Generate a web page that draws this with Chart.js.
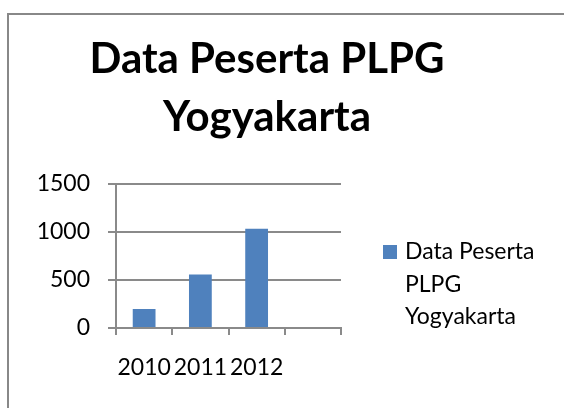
<!DOCTYPE html>
<html>
<head>
<meta charset="utf-8">
<script src="https://cdn.jsdelivr.net/npm/chart.js@4"></script>
<style>
  html, body { margin: 0; padding: 0; background: #fff; }
  #wrap { width: 564px; height: 408px; position: relative; }
</style>
</head>
<body>
<div id="wrap"><canvas id="myChart" width="564" height="408"></canvas></div>
<script>
const categories = ['2010', '2011', '2012', ''];
const peserta = [198, 558, 1034, null];
const yTicks = [0, 500, 1000, 1500];
const seriesName = 'Data Peserta PLPG Yogyakarta';
const titleLines = ['Data Peserta PLPG', 'Yogyakarta'];
const legendLines = ['Data Peserta', 'PLPG', 'Yogyakarta'];

const barColor = '#4F81BD';
const gridColor = '#8a8a8a';
const fontFamily = 'Lato, "Open Sans", sans-serif';

// frame around the chart (runs off the right and bottom edges)
const framePlugin = {
  id: 'frame',
  beforeDraw(chart) {
    const c = chart.ctx;
    c.save();
    c.strokeStyle = '#888888';
    c.lineWidth = 2;
    c.strokeRect(8, 14, 700, 500);
    c.restore();
  }
};

// legend with wrapped text, drawn in the space kept free on the right
const wrapLegend = {
  id: 'wrapLegend',
  afterDraw(chart) {
    const c = chart.ctx;
    const area = chart.chartArea;
    const x = area.right + 42;
    const y0 = area.bottom - 69;
    c.save();
    c.fillStyle = chart.data.datasets[0].backgroundColor;
    c.fillRect(x, y0 - 14, 14, 14);
    c.fillStyle = '#000';
    c.font = '23px ' + fontFamily;
    c.textBaseline = 'alphabetic';
    legendLines.forEach((t, i) => {
      c.fillText(t, x + 22, y0 + i * 32.5);
    });
    c.restore();
  }
};

const ctx = document.getElementById('myChart').getContext('2d');
let myChart = new Chart(ctx, {
  type: 'bar',
  data: {
    labels: categories,
    datasets: [
      {
        label: seriesName,
        data: peserta,
        backgroundColor: barColor,
        borderWidth: 0,
        barPercentage: 0.405,
        categoryPercentage: 1
      }
    ]
  },
  options: {
    responsive: false,
    animation: false,
    layout: { padding: { left: 0, right: 30, top: 0, bottom: 0 } },
    plugins: {
      legend: { display: false },
      tooltip: { enabled: false },
      title: {
        display: true,
        text: titleLines,
        color: '#000',
        font: { family: fontFamily, size: 42, weight: 'bold', lineHeight: '58px' },
        padding: { top: 30, bottom: 38 }
      }
    },
    scales: {
      x: {
        grid: {
          offset: true,
          drawOnChartArea: false,
          color: gridColor,
          lineWidth: 2,
          tickLength: 7,
          tickWidth: 2
        },
        border: { display: true, color: gridColor, width: 2 },
        ticks: {
          color: '#000',
          padding: 19,
          maxRotation: 0,
          autoSkip: false,
          font: { family: fontFamily, size: 23 }
        },
        afterFit(scale) { scale.height = 80; }
      },
      y: {
        min: 0,
        max: 1500,
        afterBuildTicks(scale) {
          scale.ticks = yTicks.map(v => ({ value: v }));
        },
        grid: {
          color: gridColor,
          lineWidth: 2,
          tickLength: 8
        },
        border: { display: true, color: gridColor, width: 2 },
        ticks: {
          color: '#000',
          padding: 18,
          font: { family: fontFamily, size: 23 },
          callback: v => String(v)
        },
        afterFit(scale) { scale.width = 116; }
      },
      spacer: {
        position: 'right',
        min: 0,
        max: 1,
        grid: { display: false },
        border: { display: false },
        ticks: { display: false },
        afterFit(scale) { scale.width = 193; }
      }
    }
  },
  plugins: [framePlugin, wrapLegend]
});
</script>
</body>
</html>
